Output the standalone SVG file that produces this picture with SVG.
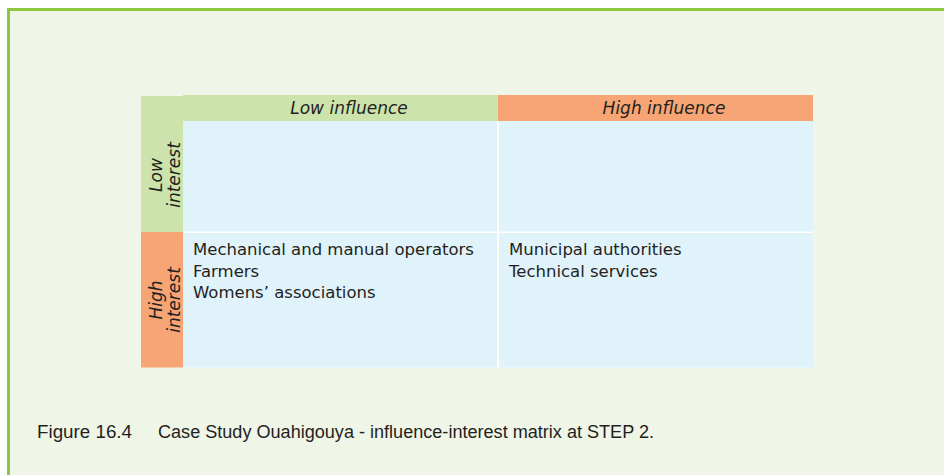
<svg xmlns="http://www.w3.org/2000/svg" width="944" height="475" viewBox="0 0 944 475">
<style>
.hdr{font-family:"DejaVu Sans","Noto Sans",sans-serif;font-style:italic;font-size:17px;fill:#231f20}
.body{font-family:"DejaVu Sans","Noto Sans",sans-serif;font-size:16.5px;fill:#231f20}
.cap{font-family:"Liberation Sans","Noto Sans",sans-serif;font-size:17.5px;fill:#231f20}
.green{fill:#cce3ac}.orange{fill:#f7a574}.cell{fill:#e0f2fa}
</style>
<rect x="0" y="0" width="944" height="475" fill="#ffffff"/>
<rect x="8" y="9.5" width="936" height="466" fill="#eff5e7"/>
<line x1="7" y1="9.5" x2="944" y2="9.5" stroke="#8dc63f" stroke-width="3"/>
<line x1="8.5" y1="8" x2="8.5" y2="475" stroke="#8dc63f" stroke-width="3"/>
<g id="matrix">
<rect x="183" y="121" width="630" height="246.5" fill="#ffffff"/>
<g id="corner"><rect class="green" x="141" y="96" width="42" height="25"/></g>
<g id="low-influence"><rect class="green" x="183" y="95" width="315" height="26"/><text class="hdr" x="349" y="114" text-anchor="middle">Low influence</text></g>
<g id="high-influence"><rect class="orange" x="498" y="95" width="315" height="26"/><text class="hdr" x="664" y="114" text-anchor="middle">High influence</text></g>
<g id="low-interest"><rect class="green" x="141" y="121" width="42" height="111"/><text class="hdr" transform="translate(162,175) rotate(-90)" text-anchor="middle">Low</text><text class="hdr" transform="translate(180,175) rotate(-90)" text-anchor="middle">interest</text></g>
<g id="high-interest"><rect class="orange" x="141" y="232" width="42" height="135.5"/><text class="hdr" transform="translate(162,300) rotate(-90)" text-anchor="middle">High</text><text class="hdr" transform="translate(180,300) rotate(-90)" text-anchor="middle">interest</text></g>
<g id="cell-ll"><rect class="cell" x="183" y="121" width="314" height="110.5"/></g>
<g id="cell-hl"><rect class="cell" x="499" y="121" width="314" height="110.5"/></g>
<g id="cell-lh"><rect class="cell" x="183" y="233" width="314" height="134.5"/><text class="body" x="193" y="255">Mechanical and manual operators</text><text class="body" x="193" y="276.5">Farmers</text><text class="body" x="193" y="298">Womens’ associations</text></g>
<g id="cell-hh"><rect class="cell" x="499" y="233" width="314" height="134.5"/><text class="body" x="509" y="255">Municipal authorities</text><text class="body" x="509" y="276.5">Technical services</text></g>
</g>
<g id="connectors"/>
<g id="caption"><text class="cap" x="37" y="438" textLength="95" lengthAdjust="spacingAndGlyphs">Figure 16.4</text><text class="cap" x="158" y="438" textLength="496" lengthAdjust="spacingAndGlyphs">Case Study Ouahigouya - influence-interest matrix at STEP 2.</text></g>
</svg>
